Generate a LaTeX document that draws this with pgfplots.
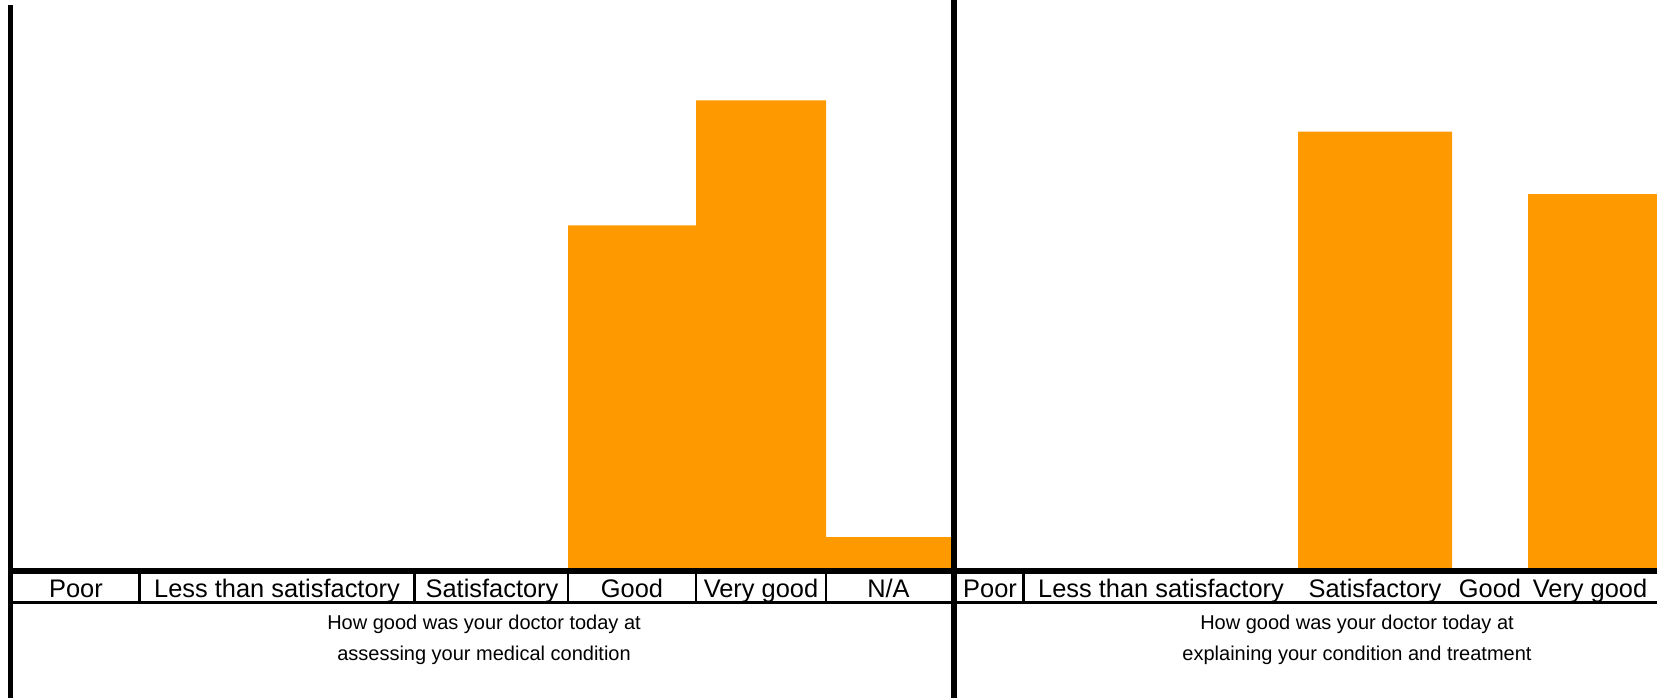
\documentclass[border=0pt]{standalone}
\usepackage{fontspec}
\setmainfont{Liberation Sans}
\usepackage{pgfplots}
\pgfplotsset{compat=1.18}
\definecolor{barorange}{RGB}{255,153,0}
\begin{document}
\begin{tikzpicture}
\begin{axis}[
  scale only axis, width=828.5pt, height=349pt,
  xmin=0, xmax=1657, ymin=-15.40, ymax=67.49,
  axis line style={draw=none},
  ytick=\empty,
  xtick={76,277,492,632,761,888.5,990,1161,1375,1490,1590},
  xticklabels={Poor, Less than satisfactory, Satisfactory, Good, Very good, N/A,
               Poor, Less than satisfactory, Satisfactory, Good, Very good},
  major tick length=0pt,
  xticklabel style={anchor=base, yshift=50.5pt, inner sep=0pt,
    font=\fontsize{12.7}{14}\selectfont},
  clip=true,
]
% left panel: How good was your doctor today at assessing your medical condition (%)
\addplot[ybar interval, fill=barorange, draw=none] coordinates {(568,40.74) (696,55.56) (826,3.70) (951,0)};
% right panel: explaining your condition and treatment (%)
\addplot[ybar interval, fill=barorange, draw=none] coordinates {(1298,51.85) (1452,0) (1528,44.44) (1700,0)};
\end{axis}
\begin{scope}[x=0.5pt,y=0.5pt]
\draw[line width=2.5pt] (10.5,693) -- (10.5,0);
\draw[line width=3.15pt] (954.2,698) -- (954.2,0);
\draw[line width=2.85pt] (8,126.8) -- (1657,126.8);
\draw[line width=1.5pt] (8,96) -- (1657,96);
\foreach \x in {139.5,414.5,568,696,826,1023.5} \draw[line width=1.15pt] (\x,126.8) -- (\x,96);
\node[font=\fontsize{10}{12}\selectfont, anchor=base, inner sep=0pt] at (484,69) {How good was your doctor today at};
\node[font=\fontsize{10}{12}\selectfont, anchor=base, inner sep=0pt] at (484,37.5) {assessing your medical condition};
\node[font=\fontsize{10}{12}\selectfont, anchor=base, inner sep=0pt] at (1357,69) {How good was your doctor today at};
\node[font=\fontsize{10}{12}\selectfont, anchor=base, inner sep=0pt] at (1357,37.5) {explaining your condition and treatment};
\end{scope}
\pgfresetboundingbox
\path[use as bounding box] (0,0) rectangle (828.5pt,349pt);
\end{tikzpicture}
\end{document}
